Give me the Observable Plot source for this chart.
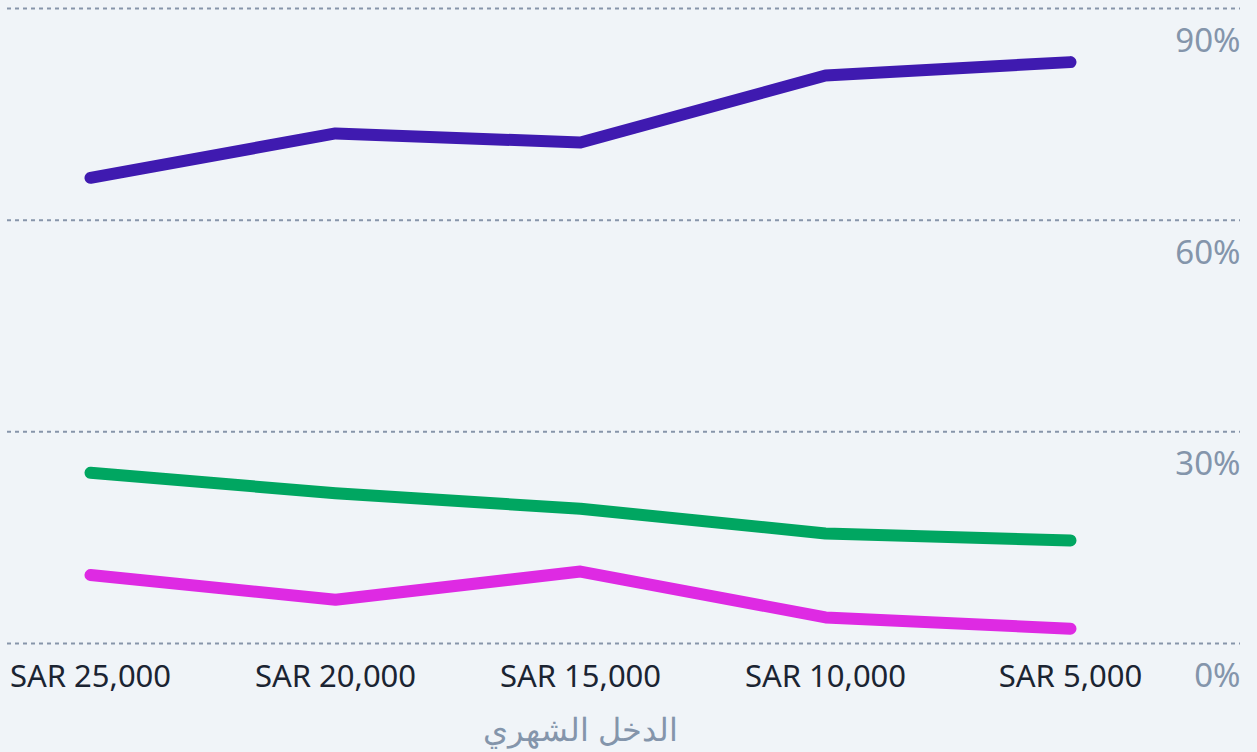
<!DOCTYPE html>
<html>
<head>
<meta charset="utf-8">
<script src="https://cdn.jsdelivr.net/npm/d3@7"></script>
<script src="https://cdn.jsdelivr.net/npm/@observablehq/plot@0.6"></script>
<style>
  html, body { margin: 0; padding: 0; background: #f0f4f8; }
  #chart svg { display: block; }
</style>
</head>
<body>
<div id="chart"></div>
<script>
const incomes = ["SAR 25,000", "SAR 20,000", "SAR 15,000", "SAR 10,000", "SAR 5,000"];
const seriesA = [66.0, 72.3, 71.0, 80.5, 82.4];
const seriesB = [24.2, 21.3, 19.1, 15.6, 14.6];
const seriesC = [9.7, 6.2, 10.2, 3.7, 2.1];
const yTicks = [0, 30, 60, 90];
const xTitle = "الدخل الشهري";

const seriesList = [
  {name: "A", values: seriesA, color: "#3f1ab0"},
  {name: "B", values: seriesB, color: "#00a661"},
  {name: "C", values: seriesC, color: "#de2ae3"}
];
const rows = seriesList.flatMap(s => s.values.map((v, i) => ({series: s.name, income: incomes[i], value: v})));

const chart = Plot.plot({
  width: 1257,
  height: 752,
  marginLeft: 7,
  marginRight: 17,
  marginTop: 8,
  marginBottom: 109,
  style: {background: "#f0f4f8", fontFamily: "'Noto Sans', 'Open Sans', sans-serif", fontSize: "31px", overflow: "visible"},
  x: {type: "point", domain: incomes, padding: 0.514, align: 0.33},
  y: {domain: [0, 90]},
  color: {domain: seriesList.map(s => s.name), range: seriesList.map(s => s.color)},
  marks: [
    Plot.ruleY(yTicks, {stroke: "#8795aa", strokeWidth: 2, strokeDasharray: "4,4"}),
    Plot.axisY(yTicks, {anchor: "right", tickSize: 0, tickPadding: 0, textAnchor: "end", dx: 0, dy: 33, fontSize: 33, fill: "#8495ab", label: null, tickFormat: d => d + "%"}),
    Plot.axisX({anchor: "bottom", tickSize: 0, tickPadding: 21, fill: "#1b2432", label: null}),
    Plot.text([xTitle], {x: () => incomes[2], frameAnchor: "bottom", dy: 97, fill: "#8495ab", fontSize: 32}),
    Plot.lineY(rows, {x: "income", y: "value", z: "series", stroke: "series", strokeWidth: 12, strokeLinecap: "round", strokeLinejoin: "round"})
  ]
});
document.getElementById("chart").appendChild(chart);
</script>
</body>
</html>
